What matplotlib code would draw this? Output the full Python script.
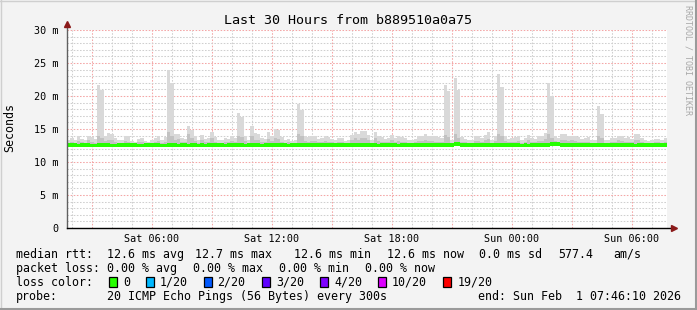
import numpy as np
import matplotlib
matplotlib.use("Agg")
import matplotlib.pyplot as plt
from matplotlib.patches import Rectangle
from matplotlib.lines import Line2D

plt.rcParams['font.family'] = ['DejaVu Sans Mono']

# ---- data (10 minute bins, hours counted from Sat 00:00) ----
start_hour = 1 + 46 / 60 + 10 / 3600   # 30 hours before Sun 07:46:10
bin_hours = 1 / 6

smoke_max = [
    13.4, 13.6, 13.3, 13.9, 13.5, 13.4, 13.9, 13.8, 13.5, 21.7, 20.9, 14.0, 14.4, 14.3, 13.6,
    13.4, 13.3, 14.0, 13.9, 13.2, 13.1, 13.5, 13.6, 13.2, 13.1, 13.3, 13.7, 13.9, 13.4, 13.8,
    23.9, 22.0, 14.2, 14.3, 13.6, 13.5, 15.5, 14.8, 14.0, 13.4, 14.1, 13.5, 13.6, 14.6, 13.8,
    13.4, 13.4, 13.7, 13.5, 13.9, 13.7, 17.5, 16.8, 14.0, 13.4, 15.5, 14.4, 14.2, 13.6, 13.5,
    14.6, 14.0, 15.0, 14.8, 13.8, 13.4, 13.5, 13.2, 13.3, 18.8, 17.9, 13.9, 13.8, 14.0, 13.9,
    13.5, 13.6, 13.9, 13.8, 13.5, 13.4, 13.7, 13.6, 13.2, 13.3, 14.1, 14.6, 14.3, 14.7, 14.7,
    14.1, 13.4, 14.6, 13.9, 13.8, 13.5, 13.6, 14.1, 13.6, 13.9, 13.8, 13.7, 13.3, 13.4, 13.5,
    13.9, 14.0, 14.3, 14.0, 13.9, 13.9, 13.8, 13.7, 21.6, 20.8, 13.3, 22.8, 20.9, 13.8, 13.5,
    13.3, 13.4, 13.9, 14.0, 13.6, 14.1, 14.5, 13.4, 13.9, 23.3, 21.4, 13.9, 13.5, 13.6, 13.8,
    13.9, 13.4, 13.6, 14.1, 13.7, 13.5, 14.0, 13.9, 14.4, 22.0, 20.0, 13.9, 13.6, 14.3, 14.2,
    13.9, 14.0, 13.9, 13.8, 13.5, 13.6, 13.8, 13.4, 13.3, 18.5, 17.3, 13.4, 13.3, 13.6, 13.7,
    14.0, 13.9, 13.7, 13.8, 13.5, 14.2, 14.2, 13.7, 13.4, 13.2, 13.3, 13.5, 13.5, 13.4, 13.6,
]

smoke_mid = [
    12.9, 13.0, 12.8, 13.2, 13.0, 12.9, 13.3, 13.1, 12.9, 14.0, 13.6, 13.2, 13.4, 13.3, 13.0,
    12.9, 12.8, 13.2, 13.1, 12.8, 12.8, 13.0, 13.0, 12.8, 12.8, 12.9, 13.1, 13.2, 12.9, 13.1,
    14.6, 14.0, 13.4, 13.5, 13.0, 13.0, 14.2, 13.6, 13.2, 12.9, 13.3, 13.0, 13.0, 13.6, 13.1,
    12.9, 12.9, 13.1, 13.0, 13.2, 13.1, 14.0, 13.8, 13.2, 12.9, 13.9, 13.4, 13.3, 13.0, 13.0,
    13.5, 13.2, 13.6, 13.5, 13.1, 12.9, 13.0, 12.8, 12.8, 14.2, 13.9, 13.2, 13.1, 13.2, 13.2,
    13.0, 13.0, 13.2, 13.1, 13.0, 12.9, 13.1, 13.0, 12.8, 12.9, 13.3, 13.6, 13.4, 13.7, 13.6,
    13.3, 12.9, 13.6, 13.2, 13.1, 13.0, 13.0, 13.3, 13.0, 13.2, 13.1, 13.1, 12.9, 12.9, 13.0,
    13.2, 13.2, 13.4, 13.2, 13.2, 13.1, 13.1, 13.1, 14.1, 13.8, 12.9, 14.2, 13.7, 13.1, 13.0,
    12.9, 12.9, 13.2, 13.2, 13.0, 13.3, 13.5, 12.9, 13.2, 14.3, 13.9, 13.2, 13.0, 13.0, 13.1,
    13.2, 12.9, 13.0, 13.3, 13.1, 13.0, 13.2, 13.2, 13.5, 14.2, 13.7, 13.2, 13.0, 13.4, 13.4,
    13.2, 13.3, 13.2, 13.1, 13.0, 13.0, 13.1, 12.9, 12.9, 14.0, 13.6, 12.9, 12.9, 13.0, 13.1,
    13.3, 13.2, 13.1, 13.1, 13.0, 13.4, 13.4, 13.1, 12.9, 12.8, 12.9, 13.0, 13.0, 12.9, 13.0,
]

median_rtt = [
    12.6, 12.6, 12.6, 12.5, 12.6, 12.6, 12.6, 12.5, 12.5, 12.6, 12.6, 12.6, 12.6, 12.5, 12.5,
    12.6, 12.6, 12.6, 12.6, 12.6, 12.6, 12.5, 12.5, 12.6, 12.6, 12.6, 12.6, 12.6, 12.5, 12.5,
    12.6, 12.6, 12.6, 12.5, 12.6, 12.6, 12.5, 12.6, 12.6, 12.5, 12.6, 12.5, 12.6, 12.6, 12.6,
    12.6, 12.6, 12.5, 12.6, 12.6, 12.6, 12.6, 12.6, 12.5, 12.6, 12.6, 12.6, 12.6, 12.5, 12.6,
    12.6, 12.6, 12.6, 12.6, 12.6, 12.6, 12.5, 12.6, 12.6, 12.6, 12.6, 12.6, 12.6, 12.6, 12.6,
    12.6, 12.6, 12.6, 12.6, 12.6, 12.6, 12.6, 12.6, 12.6, 12.6, 12.6, 12.6, 12.6, 12.6, 12.6,
    12.6, 12.6, 12.6, 12.5, 12.6, 12.6, 12.6, 12.6, 12.6, 12.5, 12.6, 12.6, 12.6, 12.6, 12.6,
    12.6, 12.6, 12.6, 12.6, 12.6, 12.6, 12.6, 12.6, 12.6, 12.6, 12.6, 12.7, 12.7, 12.6, 12.6,
    12.6, 12.6, 12.6, 12.6, 12.6, 12.6, 12.6, 12.6, 12.6, 12.6, 12.6, 12.6, 12.6, 12.6, 12.6,
    12.6, 12.5, 12.6, 12.5, 12.6, 12.6, 12.6, 12.6, 12.6, 12.6, 12.7, 12.7, 12.7, 12.6, 12.6,
    12.6, 12.6, 12.6, 12.6, 12.6, 12.6, 12.6, 12.6, 12.6, 12.6, 12.6, 12.6, 12.6, 12.6, 12.6,
    12.6, 12.6, 12.6, 12.6, 12.6, 12.5, 12.6, 12.6, 12.6, 12.6, 12.6, 12.6, 12.6, 12.6, 12.6,
]
smoke_floor = 12.35
median_half_width = 0.26

tick_hours = [6, 12, 18, 24, 30]
tick_labels = ['Sat 06:00', 'Sat 12:00', 'Sat 18:00', 'Sun 00:00', 'Sun 06:00']
y_ticks = [0, 5, 10, 15, 20, 25, 30]
y_labels = ['0', '5 m', '10 m', '15 m', '20 m', '25 m', '30 m']

loss_labels = ['0', '1/20', '2/20', '3/20', '4/20', '10/20', '19/20']
loss_colors = ['#26ff00', '#00b8ff', '#0059ff', '#5e00ff', '#7e00ff', '#dd00ff', '#ff0000']

# ---- figure ----
W, H = 697, 310
fig = plt.figure(figsize=(W / 100, H / 100), dpi=100, facecolor='#f3f3f3')
ax = fig.add_axes([67 / W, (H - 228) / H, 600 / W, 198 / H])
ax.set_facecolor('white')

edges = start_hour + bin_hours * np.arange(len(smoke_max) + 1)
lo = np.full(len(smoke_max), smoke_floor)
ax.stairs(smoke_max, edges, baseline=lo, fill=True, color='#d9d9d9', zorder=2)
ax.stairs(smoke_mid, edges, baseline=lo, fill=True, color='#c2c2c2', zorder=2)
med = np.array(median_rtt)
ax.stairs(med + median_half_width, edges, baseline=med - median_half_width,
          fill=True, color=loss_colors[0], zorder=3)

ax.set_xlim(start_hour, start_hour + 30)
ax.set_ylim(0, 30)

ax.set_xticks(np.arange(3, 31, 3))
ax.set_xticklabels([tick_labels[tick_hours.index(h)] if h in tick_hours else ''
                    for h in range(3, 31, 3)])
ax.set_xticks(np.arange(2, 32), minor=True)
ax.set_yticks(y_ticks)
ax.set_yticklabels(y_labels)
ax.set_yticks(np.arange(0, 31), minor=True)

ax.grid(which='minor', color='#cfcfcf', linestyle=(0, (1.5, 1.5)), linewidth=0.75)
ax.grid(which='major', color='#f4a6a6', linestyle=(0, (1.5, 1.5)), linewidth=0.75)
ax.set_axisbelow(True)
ax.tick_params(which='both', length=0)
ax.tick_params(axis='x', labelsize=7.3, pad=4)
ax.tick_params(axis='y', labelsize=7.3, pad=6)
for s in ax.spines.values():
    s.set_visible(False)

# axes with arrows
ax.plot([0, 0], [0, 1.025], transform=ax.transAxes, color='#606060', lw=1, clip_on=False, zorder=5)
ax.plot([0, 1.008], [0, 0], transform=ax.transAxes, color='black', lw=1, clip_on=False, zorder=5)
ax.plot([0], [1.03], marker='^', ms=4.5, color='#8b1a1a', transform=ax.transAxes, clip_on=False, zorder=6)
ax.plot([1.012], [0], marker='>', ms=4.5, color='#8b1a1a', transform=ax.transAxes, clip_on=False, zorder=6)


def ftext(x, y, s, **kw):
    fig.text(x / W, 1 - y / H, s, va='baseline', ha='left', fontsize=8.4, **kw)


fig.text(347.5 / W, 1 - 23.5 / H, 'Last 30 Hours from b889510a0a75', ha='center',
         va='baseline', fontsize=9.6)
fig.text(10 / W, 1 - 128 / H, 'Seconds', rotation=90, ha='center', va='center', fontsize=8.4)
fig.text(688 / W, 1 - 5 / H, 'RRDTOOL / TOBI OETIKER', rotation=270, ha='center', va='top',
         fontsize=6, color='#a8a8a8')

# legend rows
ftext(16, 257.7, 'median rtt:')
for x, s in zip([107.3, 195, 294, 386.7, 479.3, 558.3, 613.3],
                ['12.6 ms avg', '12.7 ms max', '12.6 ms min', '12.6 ms now',
                 '0.0 ms sd', '577.4', 'am/s']):
    ftext(x, 257.7, s)
ftext(16, 271.7, 'packet loss:')
for x, s in zip([107.3, 193.3, 279.3, 365],
                ['0.00 % avg', '0.00 % max', '0.00 % min', '0.00 % now']):
    ftext(x, 271.7, s)
ftext(16, 285.7, 'loss color:')
sq_x = [109.3, 146, 203.5, 262.3, 320, 377.7, 443.3]
for x, lab, col in zip(sq_x, loss_labels, loss_colors):
    fig.add_artist(Rectangle((x / W, 1 - 287 / H), 8 / W, 10 / H, transform=fig.transFigure,
                             facecolor=col, edgecolor='black', lw=0.9))
    ftext(x + 14, 285.7, lab)
ftext(16, 299.7, 'probe:')
ftext(107.3, 299.7, '20 ICMP Echo Pings (56 Bytes) every 300s')
ftext(478.3, 299.7, 'end: Sun Feb  1 07:46:10 2026')

# image border
fig.add_artist(Line2D([0, 1], [1 - 0.5 / H, 1 - 0.5 / H], transform=fig.transFigure, color='#cfcfcf', lw=1))
fig.add_artist(Line2D([0.5 / W, 0.5 / W], [0, 1], transform=fig.transFigure, color='#cfcfcf', lw=1))
fig.add_artist(Line2D([0, 1], [1 / H, 1 / H], transform=fig.transFigure, color='#9a9a9a', lw=1.5))
fig.add_artist(Line2D([1 - 1 / W, 1 - 1 / W], [0, 1], transform=fig.transFigure, color='#9a9a9a', lw=1.5))

fig.savefig('out.png', dpi=100, facecolor=fig.get_facecolor())
